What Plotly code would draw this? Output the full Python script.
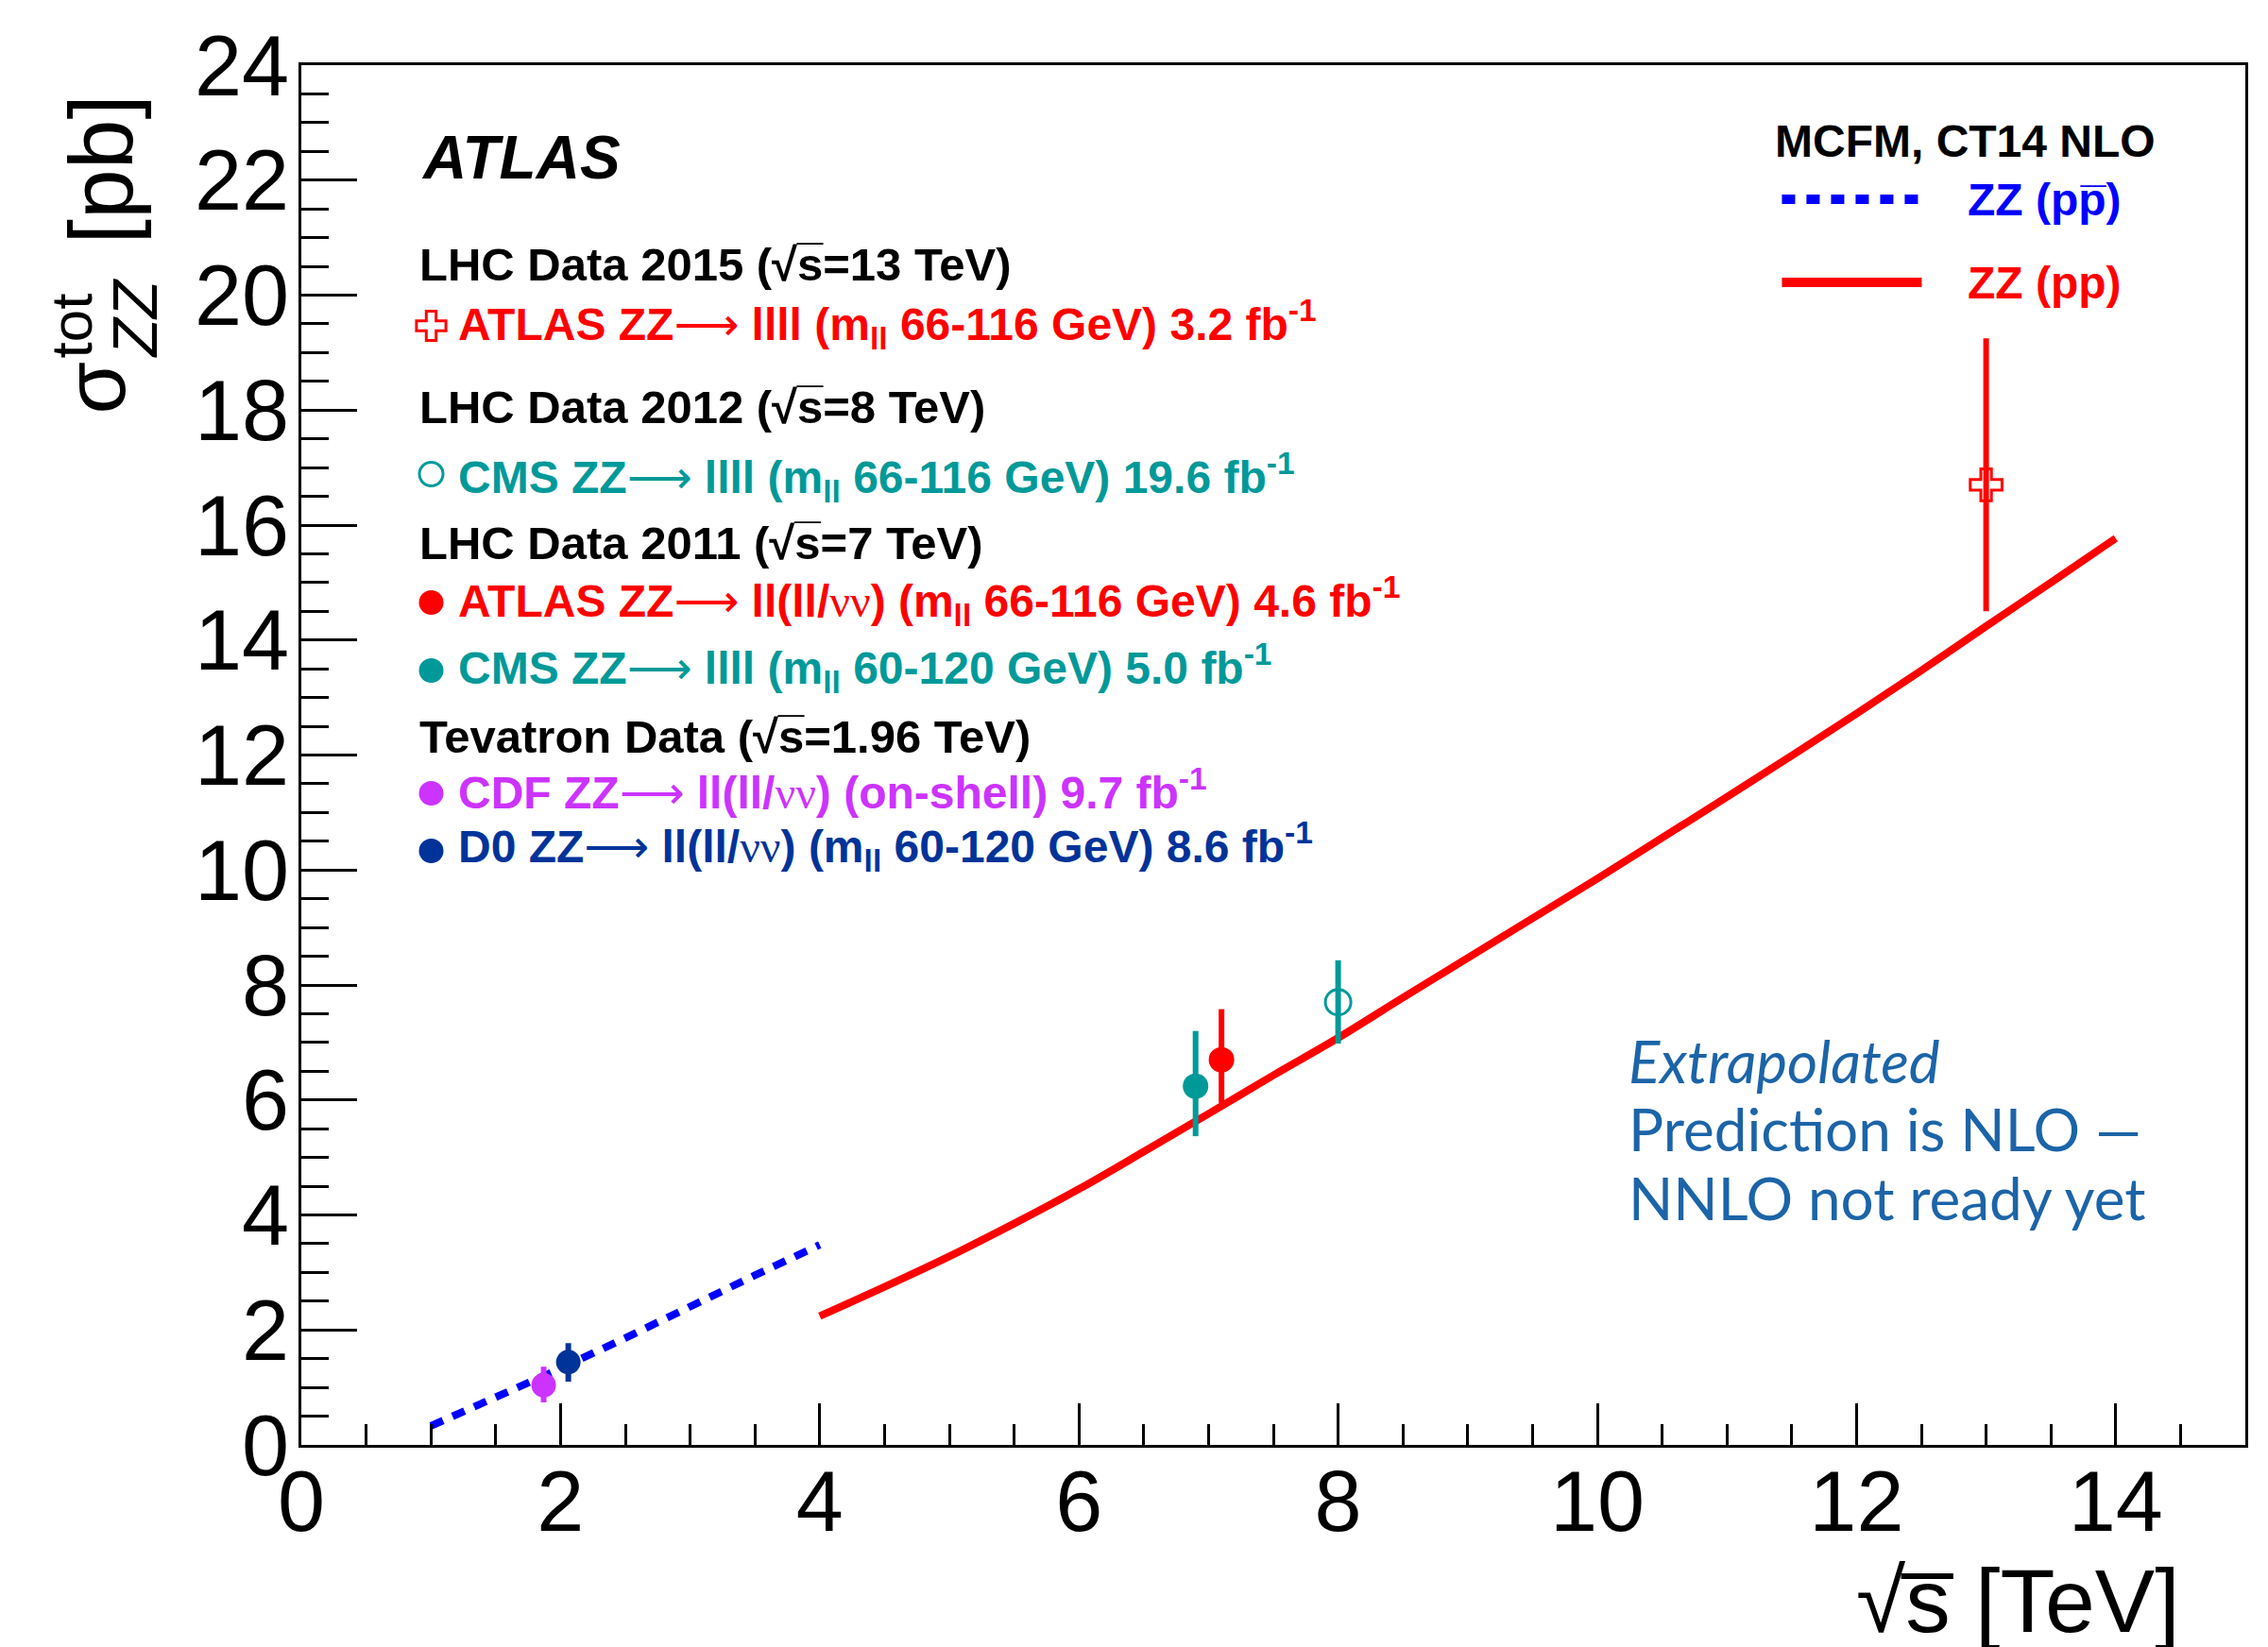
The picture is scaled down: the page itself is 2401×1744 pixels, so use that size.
import plotly.graph_objects as go

# ---------------- data ----------------
# MCFM, CT14 NLO predictions
ppbar_x = [1.0, 1.5, 2.0, 2.5, 3.0, 3.5, 4.0]
ppbar_y = [0.33, 0.82, 1.33, 1.86, 2.42, 2.95, 3.48]

pp_x = [4.0, 4.5, 5.0, 5.5, 6.0, 6.5, 7.0, 7.5, 8.0, 8.5, 9.0, 9.5, 10.0,
        10.5, 11.0, 11.5, 12.0, 12.5, 13.0, 13.5, 14.0]
pp_y = [2.24, 2.75, 3.28, 3.85, 4.45, 5.10, 5.76, 6.43, 7.08, 7.78, 8.47, 9.16,
        9.85, 10.56, 11.27, 11.99, 12.72, 13.47, 14.24, 15.00, 15.77]

# measurements: sqrt(s) position, sigma, +err, -err
atlas13_x, atlas13_y, atlas13_ep, atlas13_em = [13.0], [16.7], [2.55], [2.2]
cms8_x, cms8_y, cms8_ep, cms8_em = [8.0], [7.7], [0.73], [0.72]
atlas7_x, atlas7_y, atlas7_ep, atlas7_em = [7.1], [6.7], [0.88], [0.75]
cms7_x, cms7_y, cms7_ep, cms7_em = [6.9], [6.24], [0.96], [0.87]
cdf_x, cdf_y, cdf_ep, cdf_em = [1.87], [1.04], [0.32], [0.30]
d0_x, d0_y, d0_ep, d0_em = [2.06], [1.44], [0.33], [0.34]

x_ticks = [0, 2, 4, 6, 8, 10, 12, 14]
y_ticks = [0, 2, 4, 6, 8, 10, 12, 14, 16, 18, 20, 22, 24]

# ---------------- style ----------------
RED = "#ff0000"
TEAL = "#009999"
MAG = "#cc33ff"
DBLUE = "#003399"
BLUE = "#0000ff"
NOTE = "#1c64a8"
FONT = "Liberation Sans, Arial, sans-serif"

W, H = 2401, 1744
OFF = 8  # page body margin
# plot area in screen pixels
SL, SR, ST, SB = 318.5, 2376.6, 69.0, 1530.0
ML, MT = SL - OFF, ST - OFF
MR, MB = W - (SR - OFF), H - (SB - OFF)
PW, PH = SR - SL, SB - ST


def px(xs):
    return (xs - SL) / PW


def py(ys):
    return (SB - ys) / PH


fig = go.Figure()

# predictions
fig.add_trace(go.Scatter(x=ppbar_x, y=ppbar_y, mode="lines",
                         line=dict(color=BLUE, width=8, dash="14px,11px"),
                         showlegend=False))
fig.add_trace(go.Scatter(x=pp_x, y=pp_y, mode="lines", line_shape="spline",
                         line=dict(color=RED, width=8), showlegend=False))


def meas(x, y, ep, em, color, symbol, size, lw=0):
    fig.add_trace(go.Scatter(
        x=x, y=y, mode="markers",
        marker=dict(color=color, symbol=symbol, size=size,
                    line=dict(color=color, width=lw)),
        error_y=dict(type="data", symmetric=False, array=ep, arrayminus=em,
                     color=color, thickness=6, width=0),
        showlegend=False))


meas(cdf_x, cdf_y, cdf_ep, cdf_em, MAG, "circle", 26)
meas(d0_x, d0_y, d0_ep, d0_em, DBLUE, "circle", 26)
meas(cms7_x, cms7_y, cms7_ep, cms7_em, TEAL, "circle", 27)
meas(atlas7_x, atlas7_y, atlas7_ep, atlas7_em, RED, "circle", 27)
meas(cms8_x, cms8_y, cms8_ep, cms8_em, TEAL, "circle-open", 27, 3)
meas(atlas13_x, atlas13_y, atlas13_ep, atlas13_em, RED, "cross-open", 28, 3)

# ---------------- legend glyphs (overlay axes in plot-fraction units) ----
leg_mx = px(456)
leg_marks = [
    (py(345), RED, "cross-open", 26, 3),
    (py(502), TEAL, "circle-open", 25, 3),
    (py(638), RED, "circle", 26, 0),
    (py(710), TEAL, "circle", 26, 0),
    (py(840), MAG, "circle", 26, 0),
    (py(901), DBLUE, "circle", 26, 0),
]
for yy, c, s, sz, lw in leg_marks:
    fig.add_trace(go.Scatter(x=[leg_mx], y=[yy], xaxis="x2", yaxis="y2",
                             mode="markers",
                             marker=dict(color=c, symbol=s, size=sz,
                                         line=dict(color=c, width=lw)),
                             showlegend=False, cliponaxis=False))

fig.add_trace(go.Scatter(x=[px(1886), px(2030)], y=[py(211), py(211)],
                         xaxis="x2", yaxis="y2", mode="lines",
                         line=dict(color=BLUE, width=10, dash="14px,12px"),
                         showlegend=False))
fig.add_trace(go.Scatter(x=[px(1886), px(2034)], y=[py(299), py(299)],
                         xaxis="x2", yaxis="y2", mode="lines",
                         line=dict(color=RED, width=10), showlegend=False))

# ---------------- axes ----------------
axis_common = dict(showgrid=False, zeroline=False, showline=True,
                   linecolor="black", linewidth=3, mirror=True,
                   ticks="inside", tickcolor="black", tickwidth=3,
                   tickfont=dict(family=FONT, size=90, color="black"))

fig.update_layout(
    width=W, height=H,
    margin=dict(l=ML, r=MR, t=MT, b=MB, pad=0),
    paper_bgcolor="white", plot_bgcolor="white",
    showlegend=False,
    xaxis=dict(range=[0, 15], tickvals=x_ticks, ticklen=44,
               ticklabelstandoff=-20,
               minor=dict(dtick=0.5, ticks="inside", ticklen=22,
                          tickwidth=3, tickcolor="black", showgrid=False),
               **axis_common),
    yaxis=dict(range=[0, 24], tickvals=y_ticks, ticklen=59,
               ticklabelstandoff=-8,
               minor=dict(dtick=0.5, ticks="inside", ticklen=29,
                          tickwidth=3, tickcolor="black", showgrid=False),
               **axis_common),
    xaxis2=dict(overlaying="x", anchor="y2", range=[0, 1], visible=False),
    yaxis2=dict(overlaying="y", anchor="x2", range=[0, 1], visible=False),
)

SQ = "\u221as\u0305"
ann = []


def text(x, y, t, size, color="black", xanchor="left", family=FONT, angle=0,
         yanchor="middle"):
    ann.append(dict(x=x, y=y, xref="paper", yref="paper", text=t,
                    showarrow=False, xanchor=xanchor, yanchor=yanchor,
                    textangle=angle,
                    font=dict(family=family, size=size, color=color)))


ARR = "<span style='font-family:DejaVu Sans;font-weight:normal'>\u27f6</span>"
NUNU = "<span style='font-family:Liberation Serif;font-weight:normal'>\u03bd\u03bd</span>"

text(px(444), py(167), "<b><i>ATLAS</i></b>", 64)
hx, tx = px(442), px(483)
text(hx, py(280), f"<b>LHC Data 2015 ({SQ}=13 TeV)</b>", 49)
text(tx, py(343), f"<b>ATLAS ZZ{ARR} llll (m<sub>ll</sub> 66-116 GeV) 3.2 fb<sup>-1</sup></b>", 48, RED)
text(hx, py(431), f"<b>LHC Data 2012 ({SQ}=8 TeV)</b>", 49)
text(tx, py(505), f"<b>CMS ZZ{ARR} llll (m<sub>ll</sub> 66-116 GeV) 19.6 fb<sup>-1</sup></b>", 48, TEAL)
text(hx, py(575), f"<b>LHC Data 2011 ({SQ}=7 TeV)</b>", 49)
text(tx, py(636), f"<b>ATLAS ZZ{ARR} ll(ll/{NUNU}) (m<sub>ll</sub> 66-116 GeV) 4.6 fb<sup>-1</sup></b>", 48, RED)
text(tx, py(707), f"<b>CMS ZZ{ARR} llll (m<sub>ll</sub> 60-120 GeV) 5.0 fb<sup>-1</sup></b>", 48, TEAL)
text(hx, py(780), f"<b>Tevatron Data ({SQ}=1.96 TeV)</b>", 49)
text(tx, py(836), f"<b>CDF ZZ{ARR} ll(ll/{NUNU}) (on-shell) 9.7 fb<sup>-1</sup></b>", 48, MAG)
text(tx, py(896), f"<b>D0 ZZ{ARR} ll(ll/{NUNU}) (m<sub>ll</sub> 60-120 GeV) 8.6 fb<sup>-1</sup></b>", 48, DBLUE)

# right legend
text(px(1877), py(149), "<b>MCFM, CT14 NLO</b>", 48)
text(px(2081), py(211), "<b>ZZ (pp\u0305)</b>", 48, BLUE)
text(px(2081), py(300), "<b>ZZ (pp)</b>", 48, RED)

# note
NF = "Lato, Open Sans, sans-serif"
text(px(1722), py(1123), "<i>Extrapolated</i>", 62, NOTE, family=NF)
text(px(1722), py(1195), "Prediction is NLO \u2014", 62, NOTE, family=NF)
text(px(1722), py(1268), "NNLO not ready yet", 62, NOTE, family=NF)

# axis titles
text(px(2310), py(1695), "\u221as\u0305 [TeV]", 95, xanchor="right")
text(px(106), py(180), "[pb]", 95, xanchor="center", angle=-90)
text(px(100), py(411), "\u03c3", 90, xanchor="center", angle=-90)
text(px(74), py(345), "tot", 62, xanchor="center", angle=-90)
text(px(142), py(337), "<i>ZZ</i>", 66, xanchor="center", angle=-90)

fig.update_layout(annotations=ann)
fig.write_html("out.html")
